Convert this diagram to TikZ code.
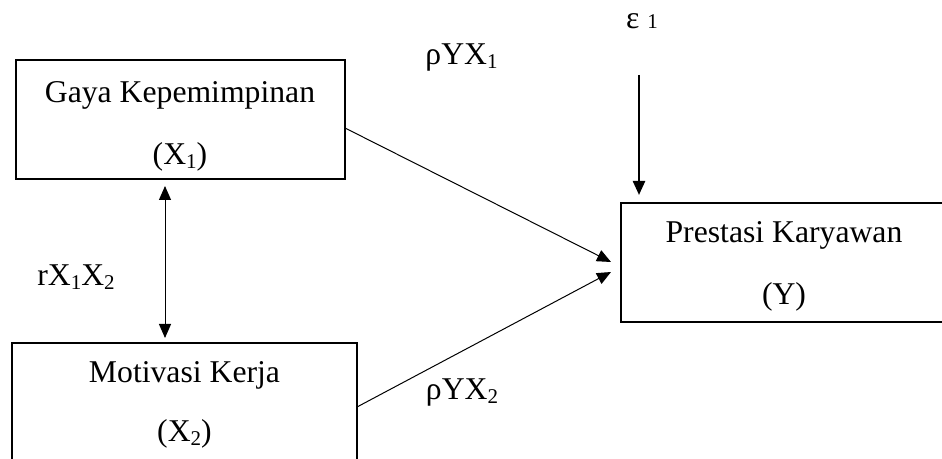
\documentclass[tikz,border=0pt]{standalone}
\usepackage{fontspec}
\setmainfont{Liberation Serif}
\usetikzlibrary{arrows.meta,calc}
\newcommand\mysub[1]{\raisebox{-0.12em}{\fontsize{10.5}{12}\selectfont #1}}
\begin{document}
\begin{tikzpicture}[x=0.5pt,y=-0.5pt,
  box/.style={draw,line width=1.1pt,rectangle,inner sep=0pt,minimum height=59.5pt},
  txt/.style={anchor=base,inner sep=0pt,font=\fontsize{15.85}{19}\selectfont},
  tip/.style={-{Triangle[length=7pt,width=6pt]}},
  both/.style={{Triangle[length=7pt,width=6pt]}-{Triangle[length=7pt,width=6pt]}},
  thin line/.style={line width=0.5pt}]
\clip (0,0) rectangle (942,459);
% boxes
\node[box,minimum width=164.5pt] (b1) at (180.5,119.5) {};
\node[box,minimum width=172.5pt] (b2) at (184.5,402.5) {};
\node[box,minimum width=163pt] (by) at (784,262.5) {};
% box texts
\node[txt] (t1a) at (180,103) {Gaya Kepemimpinan};
\node[txt] (t1b) at (180,165) {(X\mysub{1})};
\node[txt] (t2a) at (184.5,383) {Motivasi Kerja};
\node[txt] (t2b) at (184.5,442) {(X\mysub{2})};
\node[txt] (tya) at (784,243) {Prestasi Karyawan};
\node[txt] (tyb) at (784,305) {(Y)};
% labels
\node[txt] (l1) at (461.5,65) {ρYX\mysub{1}};
\node[txt] (l2) at (462,400) {ρYX\mysub{2}};
\node[txt] (lr) at (76,286) {rX\mysub{1}X\mysub{2}};
\node[txt] (le) at (642,29) {ε {\fontsize{10.5}{12}\selectfont 1}};
% connector anchors
\coordinate (s1) at (345,128);
\coordinate (e1) at (611,262);
\coordinate (s2) at (357,407);
\coordinate (e2) at (611,272);
\coordinate (es) at (639,75);
\coordinate (ee) at (639,195);
\coordinate (da) at (165,186);
\coordinate (db) at (165,338);
\draw[thin line,tip] (s1) -- (e1);
\draw[thin line,tip] (s2) -- (e2);
\draw[line width=1.2pt,tip] (es) -- (ee);
\draw[thin line,both] (da) -- (db);
\end{tikzpicture}
\end{document}
